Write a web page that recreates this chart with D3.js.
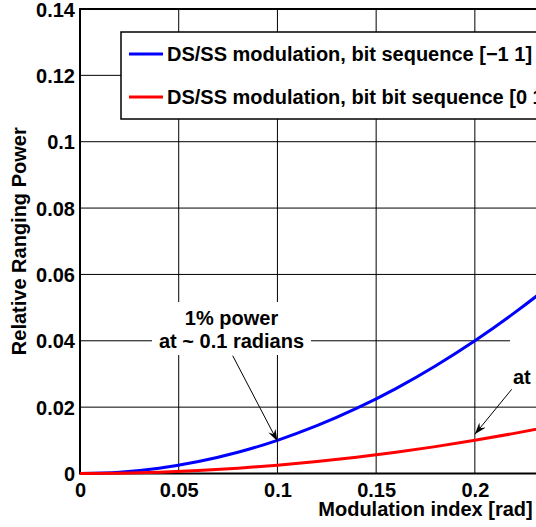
<!DOCTYPE html>
<html>
<head>
<meta charset="utf-8">
<script src="https://cdn.jsdelivr.net/npm/d3@7"></script>
<style>
  body { margin: 0; background: #fff; }
  svg { display: block; }
  text { font-family: "Liberation Sans", Arial, Helvetica, sans-serif; font-weight: bold; }
</style>
</head>
<body>
<div id="chart"></div>
<script>
// modulation index [rad]
var modIndex = [0, 0.02, 0.04, 0.06, 0.08, 0.10, 0.12, 0.14, 0.16, 0.18, 0.20, 0.22, 0.24, 0.26, 0.28, 0.30, 0.32, 0.34];
// DS/SS modulation, bit sequence [-1 1]
var powerPolar = [0, 0.0004, 0.0016, 0.0036, 0.0064, 0.0100, 0.0144, 0.0196, 0.0256, 0.0324, 0.0400, 0.0484, 0.0576, 0.0676, 0.0784, 0.0900, 0.1024, 0.1156];
// DS/SS modulation, bit sequence [0 1]
var powerUnipolar = [0, 0.0001, 0.0004, 0.0009, 0.0016, 0.0025, 0.0036, 0.0049, 0.0064, 0.0081, 0.0100, 0.0121, 0.0144, 0.0169, 0.0196, 0.0225, 0.0256, 0.0289];

// only the ticks that fall inside the picture
var xTicks = [0, 0.05, 0.1, 0.15, 0.2];
var yTicks = [0, 0.02, 0.04, 0.06, 0.08, 0.1, 0.12, 0.14];

var seriesNames = ["DS/SS modulation, bit sequence [\u22121 1]", "DS/SS modulation, bit bit sequence [0 1]"];
var seriesColors = ["#0000ff", "#ff0000"];

var svgWidth = 536;
var svgHeight = 527;

var margin = { top: 9, left: 80 };
var width = 691;      // plot runs on past the right edge of the picture
var height = 464.5;
var fontSize = "20px";

var svg = d3.select("#chart")
  .append("svg")
  .attr("width", svgWidth)
  .attr("height", svgHeight);

var chartGroup = svg.append("g")
  .attr("transform", `translate(${margin.left}, ${margin.top})`);

// scales
var xScale = d3.scaleLinear().domain([0, 0.35]).range([0, width]);
var yScale = d3.scaleLinear().domain([0, 0.14]).range([height, 0]);

// grid
chartGroup.append("g")
  .selectAll("line")
  .data(xTicks)
  .enter()
  .append("line")
  .attr("x1", d => xScale(d)).attr("x2", d => xScale(d))
  .attr("y1", 0).attr("y2", height)
  .attr("stroke", "#000").attr("stroke-width", 1);

chartGroup.append("g")
  .selectAll("line")
  .data(yTicks)
  .enter()
  .append("line")
  .attr("x1", 0).attr("x2", width)
  .attr("y1", d => yScale(d)).attr("y2", d => yScale(d))
  .attr("stroke", "#000").attr("stroke-width", 1);

// axes
var xAxis = d3.axisBottom(xScale).tickValues(xTicks).tickSize(0).tickPadding(9).tickFormat(d3.format("~g"));
var yAxis = d3.axisLeft(yScale).tickValues(yTicks).tickSize(0).tickPadding(5).tickFormat(d3.format("~g"));

var gx = chartGroup.append("g")
  .attr("transform", `translate(0, ${height})`)
  .call(xAxis);
var gy = chartGroup.append("g").call(yAxis);

[gx, gy].forEach(function (g) {
  g.select(".domain").remove();
  g.selectAll("text")
    .attr("fill", "#000")
    .style("font-size", fontSize)
    .style("font-family", "'Liberation Sans', Arial, sans-serif")
    .style("font-weight", "bold");
});
gy.selectAll("text").attr("dy", "0.35em");

// frame
chartGroup.append("rect")
  .attr("x", 0).attr("y", 0)
  .attr("width", width).attr("height", height)
  .attr("fill", "none")
  .attr("stroke", "#000")
  .attr("stroke-width", 2);

// curves
var lineGen = d3.line()
  .x((d, i) => xScale(modIndex[i]))
  .y(d => yScale(d))
  .curve(d3.curveMonotoneX);

[powerPolar, powerUnipolar].forEach(function (series, i) {
  chartGroup.append("path")
    .datum(series)
    .attr("d", lineGen)
    .attr("fill", "none")
    .attr("stroke", seriesColors[i])
    .attr("stroke-width", 3);
});

// arrow head
svg.append("defs").append("marker")
  .attr("id", "head")
  .attr("viewBox", "0 0 12 8")
  .attr("refX", 12).attr("refY", 4)
  .attr("markerWidth", 12).attr("markerHeight", 8)
  .attr("markerUnits", "userSpaceOnUse")
  .attr("orient", "auto")
  .append("path")
  .attr("d", "M0,0 L12,4 L0,8 L4,4 Z")
  .attr("fill", "#000");

// annotations (white boxes hide the grid behind the text)
var notes = [
  { lines: ["1% power", "at ~ 0.1 radians"], bx: 72, by: 293, w: 159, h: 53, tx: 0.1, ty: 0.01, ax: 152.7, ay: 346.7, tipDy: 1 },
  { lines: ["1% power", "at ~ 0.2 radians"], bx: 430, by: 329, w: 151, h: 53, tx: 0.2, ty: 0.01, ax: 431.7, ay: 380.3, tipDy: -6 }
];

notes.forEach(function (n) {
  chartGroup.append("rect")
    .attr("x", n.bx).attr("y", n.by)
    .attr("width", n.w).attr("height", n.h)
    .attr("fill", "#fff");
  n.lines.forEach(function (t, k) {
    chartGroup.append("text")
      .attr("x", n.bx + n.w / 2)
      .attr("y", n.by + 16 + k * 23)
      .attr("dy", "0.35em")
      .attr("text-anchor", "middle")
      .style("font-size", fontSize)
      .text(t);
  });
  chartGroup.append("line")
    .attr("x1", n.ax).attr("y1", n.ay)
    .attr("x2", xScale(n.tx)).attr("y2", yScale(n.ty) + n.tipDy)
    .attr("stroke", "#000")
    .attr("stroke-width", 1)
    .attr("marker-end", "url(#head)");
});

// legend
var legend = chartGroup.append("g")
  .attr("transform", "translate(41, 23)");

legend.append("rect")
  .attr("width", 470).attr("height", 87)
  .attr("fill", "#fff")
  .attr("stroke", "#000")
  .attr("stroke-width", 1.5);

seriesNames.forEach(function (name, i) {
  var y = 22 + i * 43;
  legend.append("line")
    .attr("x1", 8).attr("x2", 42)
    .attr("y1", y).attr("y2", y)
    .attr("stroke", seriesColors[i])
    .attr("stroke-width", 3);
  legend.append("text")
    .attr("x", 46).attr("y", y)
    .attr("dy", "0.35em")
    .style("font-size", fontSize)
    .text(name);
});

// axis labels
chartGroup.append("text")
  .attr("x", xScale(0.175))
  .attr("y", height + 42)
  .attr("text-anchor", "middle")
  .style("font-size", fontSize)
  .text("Modulation index [rad]");

chartGroup.append("text")
  .attr("transform", "rotate(-90)")
  .attr("x", 0 - height / 2)
  .attr("y", 26 - margin.left)
  .attr("text-anchor", "middle")
  .style("font-size", fontSize)
  .text("Relative Ranging Power");
</script>
</body>
</html>
